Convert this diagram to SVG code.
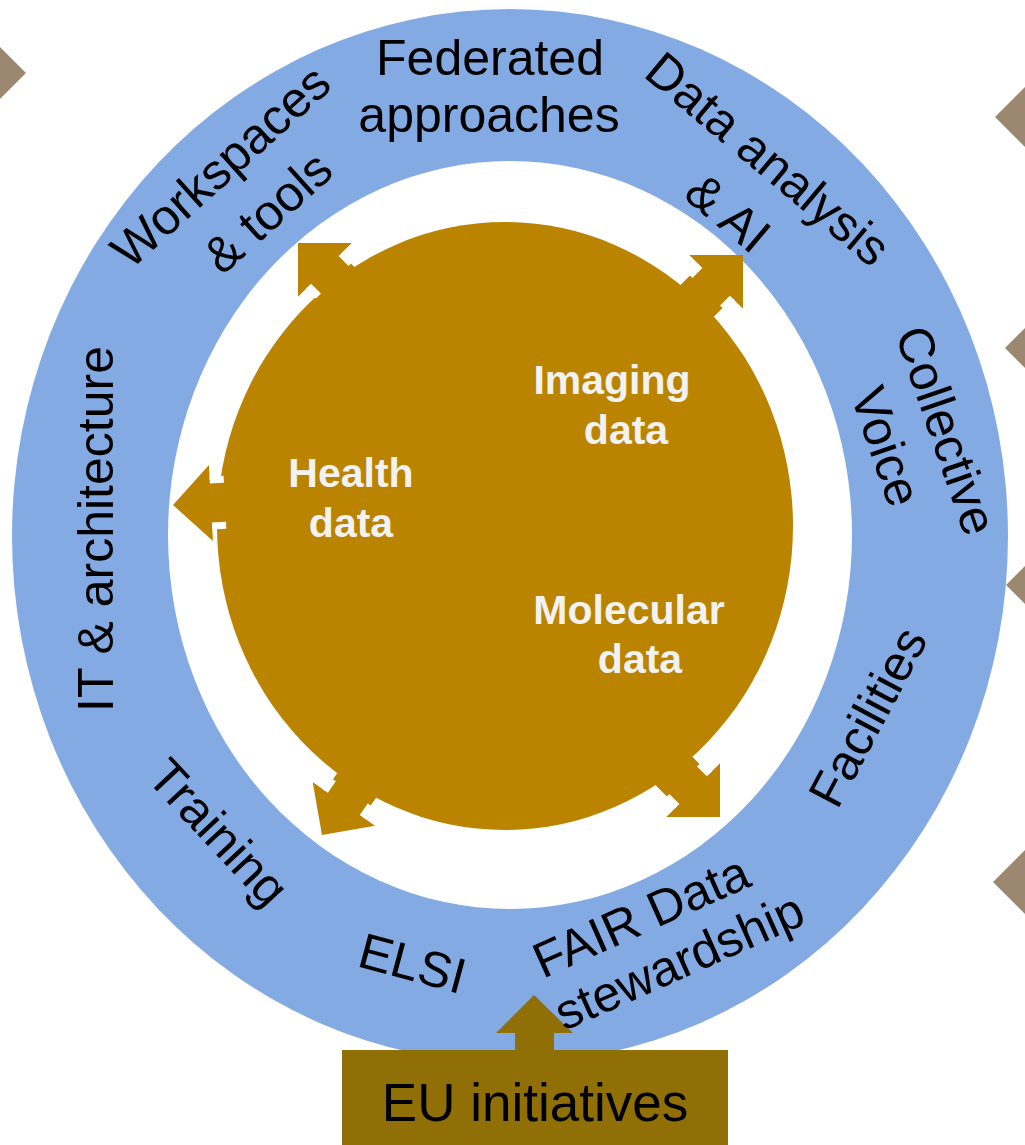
<svg xmlns="http://www.w3.org/2000/svg" width="1025" height="1145" viewBox="0 0 1025 1145">
<style>
.ring{font-family:"Liberation Sans",Arial,sans-serif;font-size:50px;fill:#000;text-anchor:middle}
.core{font-family:"Liberation Sans",Arial,sans-serif;font-size:41px;font-weight:bold;fill:#F2F2F2;text-anchor:middle}
.arr{fill:#BB8400}
.gap{stroke:#FFFFFF;stroke-width:7;fill:none}
.dia{fill:#9C8870}
</style>
<defs>
<g id="arrowShape">
<polygon class="arr" points="0,0 -38,-38 -38,-23 -95,-23 -95,23 -38,23 -38,38"/>
<line class="gap" x1="-38" y1="-23" x2="-52" y2="-23"/>
<line class="gap" x1="-38" y1="23" x2="-52" y2="23"/>
</g>
</defs>
<rect width="1025" height="1145" fill="#FFFFFF"/>
<g id="diamonds">
<polygon class="dia" points="-30,73 -2,45 26,73 -2,101"/>
<polygon class="dia" points="995,117 1040,72 1085,117 1040,162"/>
<polygon class="dia" points="1005,348 1050,303 1095,348 1050,393"/>
<polygon class="dia" points="1006,585 1051,540 1096,585 1051,630"/>
<polygon class="dia" points="993,882 1038,837 1083,882 1038,927"/>
</g>
<g id="ring">
<ellipse cx="510" cy="536" rx="498" ry="527" fill="#83AAE3"/>
<ellipse cx="510" cy="535" rx="342" ry="374" fill="#FFFFFF"/>
</g>
<g id="core">
<ellipse cx="505" cy="526" rx="288" ry="304" fill="#BB8400"/>
</g>
<g id="connectors">
<use href="#arrowShape" transform="translate(298,243) rotate(-135)"/>
<use href="#arrowShape" transform="translate(743,255) rotate(-45)"/>
<use href="#arrowShape" transform="translate(173,505) rotate(177)"/>
<use href="#arrowShape" transform="translate(322,835) rotate(125)"/>
<use href="#arrowShape" transform="translate(720,817) rotate(45)"/>
<polygon fill="#8F6F06" points="534,995 573,1033 554,1033 554,1052 515,1052 515,1033 496,1033"/>
</g>
<g id="label-federated"><text class="ring"><tspan x="490" y="75">Federated</tspan><tspan x="489" y="132">approaches</tspan></text></g>
<g id="label-workspaces">
<text class="ring" transform="translate(232,179) rotate(-42)">Workspaces</text>
<text class="ring" transform="translate(279,225) rotate(-42)">&amp; tools</text>
</g>
<g id="label-dataanalysis">
<text class="ring" transform="translate(757,172) rotate(40)">Data analysis</text>
<text class="ring" transform="translate(717,226) rotate(40)">&amp; AI</text>
</g>
<g id="label-collective">
<text class="ring" transform="translate(930,436) rotate(71)">Collective</text>
<text class="ring" transform="translate(870,452) rotate(71)">Voice</text>
</g>
<g id="label-it"><text class="ring" transform="translate(113,529) rotate(-90)">IT &amp; architecture</text></g>
<g id="label-facilities"><text class="ring" transform="translate(883,725) rotate(-62)">Facilities</text></g>
<g id="label-training"><text class="ring" transform="translate(206,844) rotate(47)">Training</text></g>
<g id="label-elsi"><text class="ring" transform="translate(408,980) rotate(15)">ELSI</text></g>
<g id="label-fair">
<text class="ring" transform="translate(648,932) rotate(-24)">FAIR Data</text>
<text class="ring" transform="translate(686,977) rotate(-24)">stewardship</text>
</g>
<g id="label-health"><text class="core"><tspan x="351" y="487">Health</tspan><tspan x="351" y="537">data</tspan></text></g>
<g id="label-imaging"><text class="core"><tspan x="612" y="394">Imaging</tspan><tspan x="626" y="444">data</tspan></text></g>
<g id="label-molecular"><text class="core"><tspan x="629" y="624">Molecular</tspan><tspan x="640" y="673">data</tspan></text></g>
<g id="eu-box">
<rect x="342" y="1050" width="386" height="95" fill="#8F6F06"/>
<text x="535" y="1121" font-family="'Liberation Sans',Arial,sans-serif" font-size="53" fill="#000" text-anchor="middle">EU initiatives</text>
</g>
</svg>
